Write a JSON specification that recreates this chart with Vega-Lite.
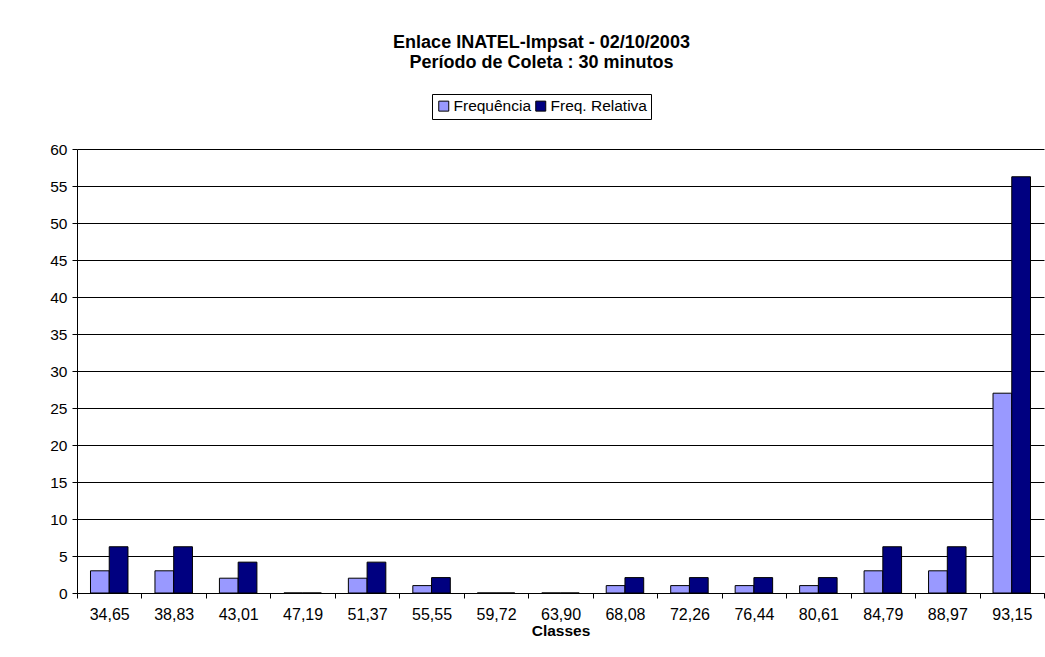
{
  "$schema": "https://vega.github.io/schema/vega-lite/v6.json",
  "width": 1045,
  "height": 657,
  "autosize": {"type": "fit", "contains": "padding"},
  "padding": {"left": 49, "top": 34, "right": 0, "bottom": 18},
  "background": "white",
  "title": {
    "text": ["Enlace INATEL-Impsat - 02/10/2003", "Período de Coleta : 30 minutos"],
    "font": "Liberation Sans",
    "fontSize": 18,
    "fontWeight": "bold",
    "lineHeight": 20,
    "color": "black",
    "anchor": "middle",
    "dx": -19,
    "offset": 70
  },
  "data": {
    "values": [
      {"classe": "34,65", "serie": "Frequência", "valor": 3},
      {"classe": "34,65", "serie": "Freq. Relativa", "valor": 6.25},
      {"classe": "38,83", "serie": "Frequência", "valor": 3},
      {"classe": "38,83", "serie": "Freq. Relativa", "valor": 6.25},
      {"classe": "43,01", "serie": "Frequência", "valor": 2},
      {"classe": "43,01", "serie": "Freq. Relativa", "valor": 4.17},
      {"classe": "47,19", "serie": "Frequência", "valor": 0},
      {"classe": "47,19", "serie": "Freq. Relativa", "valor": 0},
      {"classe": "51,37", "serie": "Frequência", "valor": 2},
      {"classe": "51,37", "serie": "Freq. Relativa", "valor": 4.17},
      {"classe": "55,55", "serie": "Frequência", "valor": 1},
      {"classe": "55,55", "serie": "Freq. Relativa", "valor": 2.08},
      {"classe": "59,72", "serie": "Frequência", "valor": 0},
      {"classe": "59,72", "serie": "Freq. Relativa", "valor": 0},
      {"classe": "63,90", "serie": "Frequência", "valor": 0},
      {"classe": "63,90", "serie": "Freq. Relativa", "valor": 0},
      {"classe": "68,08", "serie": "Frequência", "valor": 1},
      {"classe": "68,08", "serie": "Freq. Relativa", "valor": 2.08},
      {"classe": "72,26", "serie": "Frequência", "valor": 1},
      {"classe": "72,26", "serie": "Freq. Relativa", "valor": 2.08},
      {"classe": "76,44", "serie": "Frequência", "valor": 1},
      {"classe": "76,44", "serie": "Freq. Relativa", "valor": 2.08},
      {"classe": "80,61", "serie": "Frequência", "valor": 1},
      {"classe": "80,61", "serie": "Freq. Relativa", "valor": 2.08},
      {"classe": "84,79", "serie": "Frequência", "valor": 3},
      {"classe": "84,79", "serie": "Freq. Relativa", "valor": 6.25},
      {"classe": "88,97", "serie": "Frequência", "valor": 3},
      {"classe": "88,97", "serie": "Freq. Relativa", "valor": 6.25},
      {"classe": "93,15", "serie": "Frequência", "valor": 27},
      {"classe": "93,15", "serie": "Freq. Relativa", "valor": 56.25}
    ]
  },
  "mark": {"type": "bar", "stroke": "black", "strokeWidth": 1},
  "encoding": {
    "x": {
      "field": "classe",
      "type": "nominal",
      "sort": null,
      "scale": {"paddingInner": 0, "paddingOuter": 0},
      "axis": {
        "title": "Classes",
        "labelAngle": 0,
        "tickBand": "extent",
        "tickSize": 5,
        "tickColor": "black",
        "domainColor": "black",
        "labelFont": "Liberation Sans",
        "labelFontSize": 16,
        "labelColor": "black",
        "labelPadding": 8,
        "titleFont": "Liberation Sans",
        "titleFontSize": 15.5,
        "titleFontWeight": "bold",
        "titleColor": "black",
        "titlePadding": 2,
        "minExtent": 28,
        "maxExtent": 28
      }
    },
    "xOffset": {
      "field": "serie",
      "type": "nominal",
      "sort": ["Frequência", "Freq. Relativa"],
      "scale": {"paddingInner": 0, "paddingOuter": 0.72}
    },
    "y": {
      "field": "valor",
      "type": "quantitative",
      "scale": {"domain": [0, 60], "nice": false},
      "axis": {
        "title": null,
        "values": [0, 5, 10, 15, 20, 25, 30, 35, 40, 45, 50, 55, 60],
        "grid": true,
        "gridColor": "black",
        "gridOpacity": 1,
        "gridWidth": 1,
        "tickSize": 5,
        "tickColor": "black",
        "domainColor": "black",
        "labelFont": "Liberation Sans",
        "labelFontSize": 15.5,
        "labelColor": "black",
        "labelPadding": 5,
        "minExtent": 28,
        "maxExtent": 28
      }
    },
    "color": {
      "field": "serie",
      "type": "nominal",
      "sort": ["Frequência", "Freq. Relativa"],
      "scale": {"domain": ["Frequência", "Freq. Relativa"], "range": ["#9999FF", "#000080"]},
      "legend": {
        "title": null,
        "orient": "none",
        "legendX": 355,
        "legendY": -55,
        "direction": "horizontal",
        "symbolType": "square",
        "symbolSize": 100,
        "symbolStrokeColor": "black",
        "symbolStrokeWidth": 1,
        "symbolOpacity": 1,
        "labelFont": "Liberation Sans",
        "labelFontSize": 15.5,
        "labelColor": "black",
        "labelOffset": 2,
        "columnPadding": 1,
        "padding": 4,
        "strokeColor": "black",
        "fillColor": "white"
      }
    }
  },
  "config": {
    "view": {"stroke": null},
    "axis": {"domainWidth": 1, "tickWidth": 1}
  }
}
